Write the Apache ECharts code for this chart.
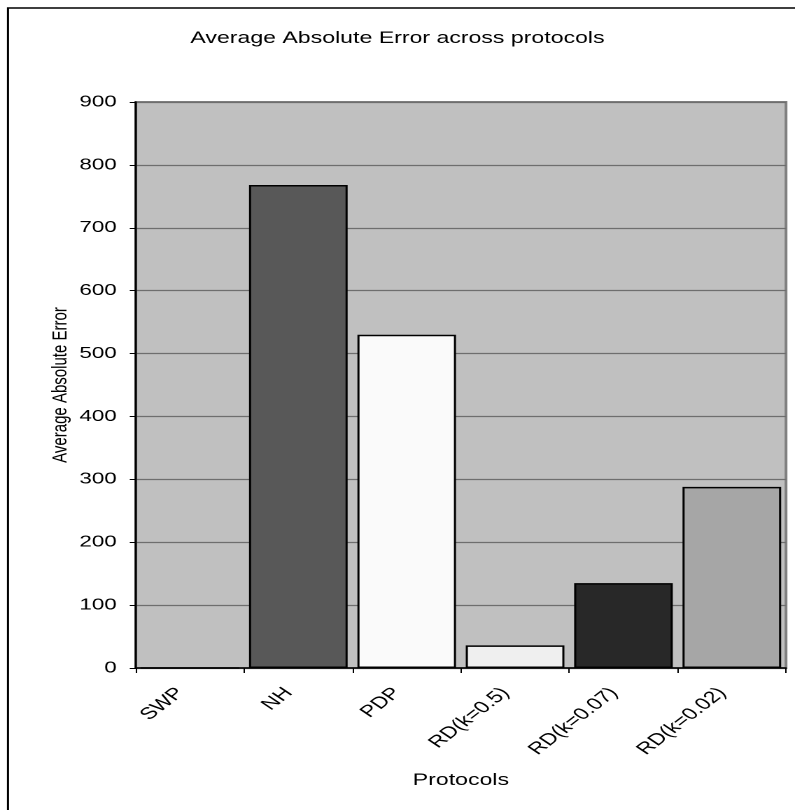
<!DOCTYPE html>
<html>
<head>
<meta charset="utf-8">
<script src="https://cdn.jsdelivr.net/npm/echarts@6/dist/echarts.min.js"></script>
<style>
  html, body { margin: 0; padding: 0; background: #ffffff; overflow: hidden; }
  /* The chart is laid out narrower and stretched horizontally to the page width,
     giving the wide, stretched lettering of the original figure. */
  #chart {
    width: 568px;
    height: 810px;
    transform: scaleX(1.3996);
    transform-origin: 0 0;
  }
</style>
</head>
<body>
<div id="chart"></div>
<script>
// Protocols compared and their average absolute error
const protocols = ['SWP', 'NH', 'PDP', 'RD(k=0.5)', 'RD(k=0.07)', 'RD(k=0.02)'];
const avgAbsError = [0, 768, 530, 36, 135, 288];
const barColors = ['#c0c0c0', '#585858', '#fafafa', '#efefef', '#282828', '#a6a6a6'];

const FONT = '"Liberation Sans", Arial, sans-serif';

const chart = echarts.init(document.getElementById('chart'), null, {
  renderer: 'canvas',
  devicePixelRatio: 2
});

chart.setOption({
  backgroundColor: '#ffffff',
  animation: false,
  title: {
    text: 'Average Absolute Error across protocols',
    left: 'center',
    top: 25,
    textStyle: { fontFamily: FONT, fontSize: 16.5, fontWeight: 'normal', color: '#000' }
  },
  graphic: [{
    type: 'rect',
    shape: { x: 5.7, y: 8, width: 700, height: 820 },
    style: { fill: 'none', stroke: '#000', lineWidth: 1.5 },
    silent: true,
    z: 100
  }],
  grid: {
    left: 97,
    right: 6.4,
    top: 102,
    bottom: 142,
    show: true,
    backgroundColor: '#c0c0c0',
    borderColor: '#808080',
    borderWidth: 2
  },
  xAxis: {
    type: 'category',
    data: protocols,
    name: 'Protocols',
    nameLocation: 'middle',
    nameGap: 104,
    nameTextStyle: { fontFamily: FONT, fontSize: 16.5, color: '#000' },
    axisLine: { show: true, lineStyle: { color: '#000', width: 1.5 } },
    axisTick: { show: true, alignWithLabel: false, length: 5, lineStyle: { color: '#000' } },
    axisLabel: {
      rotate: 47,
      margin: 15,
      padding: [0, 10, 0, 0],
      fontFamily: FONT,
      fontSize: 16.5,
      color: '#000'
    },
    splitLine: { show: false }
  },
  yAxis: {
    type: 'value',
    min: 0,
    max: 900,
    interval: 100,
    name: 'Average Absolute Error',
    nameLocation: 'middle',
    nameGap: 46,
    nameMoveOverlap: false,
    nameRotate: 90,
    nameTextStyle: { fontFamily: FONT, fontSize: 15, color: '#000' },
    axisLine: { show: true, lineStyle: { color: '#000', width: 1.5 } },
    axisTick: { show: true, inside: false, length: 4.3, lineStyle: { color: '#000' } },
    axisLabel: { margin: 13.6, fontFamily: FONT, fontSize: 16, color: '#000' },
    splitLine: { show: true, lineStyle: { color: '#6e6e6e', width: 1.2 } }
  },
  series: [{
    type: 'bar',
    barCategoryGap: '9%',
    data: avgAbsError.map((v, i) => ({
      value: v,
      itemStyle: { color: barColors[i] }
    })),
    itemStyle: { borderColor: '#000', borderWidth: 1.5 }
  }]
});
</script>
</body>
</html>
